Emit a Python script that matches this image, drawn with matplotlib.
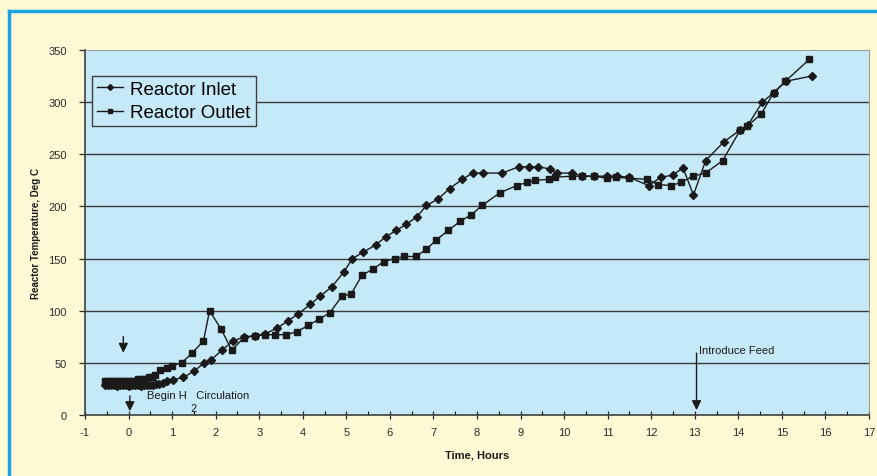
import matplotlib
matplotlib.use("Agg")
import matplotlib.pyplot as plt
from matplotlib.lines import Line2D
from matplotlib.ticker import MultipleLocator

plt.rcParams['font.family'] = ['Liberation Sans', 'DejaVu Sans']
plt.rcParams['axes.unicode_minus'] = False

# Reactor Inlet (diamonds)
inlet_t = [-0.55, -0.48, -0.41, -0.34, -0.27, -0.20, -0.13, -0.06, 0.01, 0.08,
           0.15, 0.22, 0.29, 0.36, 0.43, 0.50, 0.57, 0.64, 0.71, 0.78,
           0.88, 1.03, 1.26, 1.50, 1.74, 1.90, 2.14, 2.40, 2.66, 2.90,
           3.14, 3.40, 3.65, 3.90, 4.17, 4.40, 4.67, 4.94, 5.14, 5.38,
           5.67, 5.91, 6.15, 6.38, 6.62, 6.84, 7.10, 7.37, 7.66, 7.90,
           8.14, 8.58, 8.96, 9.19, 9.40, 9.67, 9.84, 10.19, 10.42, 10.69,
           10.98, 11.22, 11.49, 11.94, 12.22, 12.49, 12.73, 12.97, 13.25, 13.67,
           14.03, 14.22, 14.55, 14.81, 15.09, 15.68]
inlet_v = [29, 29, 29, 29, 28, 29, 29, 29, 28, 29,
           29, 29, 28, 29, 29, 29, 29, 30, 30, 31,
           33, 34, 36, 42, 50, 53, 62, 71, 75, 76,
           78, 83, 90, 97, 106, 114, 123, 137, 150, 156,
           163, 171, 177, 183, 190, 201, 207, 217, 226, 232,
           232, 232, 238, 238, 238, 236, 232, 232, 229, 229,
           229, 229, 228, 220, 228, 230, 237, 211, 244, 262,
           273, 278, 300, 309, 320, 325]

# Reactor Outlet (squares)
outlet_t = [-0.55, -0.48, -0.41, -0.34, -0.27, -0.20, -0.13, -0.06, 0.01, 0.08,
            0.15, 0.22, 0.30, 0.38, 0.46, 0.54, 0.61, 0.72, 0.88, 0.99,
            1.22, 1.45, 1.72, 1.86, 2.13, 2.37, 2.64, 2.91, 3.14, 3.37,
            3.62, 3.87, 4.13, 4.38, 4.62, 4.90, 5.11, 5.36, 5.61, 5.86,
            6.11, 6.33, 6.60, 6.84, 7.07, 7.34, 7.62, 7.87, 8.12, 8.52,
            8.91, 9.15, 9.34, 9.65, 9.80, 10.17, 10.42, 10.68, 10.98, 11.20,
            11.49, 11.91, 12.16, 12.45, 12.69, 12.95, 13.25, 13.64, 14.04, 14.21,
            14.53, 14.81, 15.08, 15.63]
outlet_v = [33, 33, 33, 33, 33, 33, 33, 33, 33, 33,
            33, 35, 35, 35, 36, 36, 38, 43, 45, 47,
            50, 59, 71, 100, 82, 62, 74, 76, 77, 77,
            77, 80, 86, 92, 98, 114, 116, 134, 140, 147,
            150, 152, 152, 159, 168, 177, 186, 192, 201, 213,
            220, 223, 225, 226, 228, 229, 229, 229, 227, 228,
            227, 226, 221, 220, 223, 229, 232, 244, 273, 277,
            289, 309, 320, 341]

x_ticks = list(range(-1, 18))
y_ticks = [0, 50, 100, 150, 200, 250, 300, 350]

cream = '#FFF9D6'
skyblue = '#C6E9F8'
border = '#1AA3E0'
dark = '#2a2a2a'

fig = plt.figure(figsize=(8.78, 4.77), dpi=100, facecolor=cream)
ax = fig.add_axes([85 / 878, 1 - 416 / 477, (869 - 85) / 878, (416 - 51) / 477])
ax.set_facecolor(skyblue)

# blue frame lines on left and top of figure
fig.add_artist(Line2D([9.5 / 878, 9.5 / 878], [0, 1 - 12 / 477], transform=fig.transFigure,
                      color=border, lw=2.5))
fig.add_artist(Line2D([8.5 / 878, 1], [1 - 12 / 477, 1 - 12 / 477], transform=fig.transFigure,
                      color=border, lw=2.5))

for y in y_ticks[1:-1]:
    ax.axhline(y, color='#3a3a3a', lw=1.0, zorder=1)

ax.plot(inlet_t, inlet_v, color='#1a1a1a', lw=1.0, marker='D', ms=4.2,
        mfc='#1a1a1a', mec='#1a1a1a', label='Reactor Inlet', zorder=3)
ax.plot(outlet_t, outlet_v, color='#1a1a1a', lw=1.0, marker='s', ms=4.5,
        mfc='#1a1a1a', mec='#1a1a1a', label='Reactor Outlet', zorder=3)

ax.set_xlim(-1, 17)
ax.set_ylim(0, 350)
ax.set_xticks(x_ticks)
ax.set_yticks(y_ticks)
ax.xaxis.set_minor_locator(MultipleLocator(0.5))
ax.tick_params(axis='both', labelsize=8, colors=dark)
ax.tick_params(axis='x', which='major', direction='inout', length=6, width=0.9, pad=6)
ax.tick_params(axis='x', which='minor', direction='in', length=3, width=0.8)
ax.tick_params(axis='y', which='major', direction='out', length=4, width=0.9, pad=9)

for side in ['left', 'bottom']:
    ax.spines[side].set_color('#404040')
    ax.spines[side].set_linewidth(1.2)
for side in ['top', 'right']:
    ax.spines[side].set_color('#8a8a8a')
    ax.spines[side].set_linewidth(0.6)

ax.set_xlabel('Time, Hours', fontsize=8, fontweight='bold', labelpad=9, color='#1a1a1a')
ax.set_ylabel('Reactor Temperature, Deg C', fontsize=7, fontweight='bold', labelpad=5,
              color='#1a1a1a')

# annotations
ax.annotate('', xy=(-0.12, 57), xytext=(-0.12, 78),
            arrowprops=dict(arrowstyle='-|>', color='#1a1a1a', lw=1.0, mutation_scale=14))
ax.annotate('', xy=(0.03, 1), xytext=(0.03, 21),
            arrowprops=dict(arrowstyle='-|>', color='#1a1a1a', lw=1.0, mutation_scale=14))
ax.text(0.42, 19.5, 'Begin H   Circulation', fontsize=8, color='#1a1a1a', va='center')
ax.text(1.42, 6.5, '2', fontsize=8, color='#1a1a1a', va='center')
ax.annotate('', xy=(13.04, 2), xytext=(13.04, 62),
            arrowprops=dict(arrowstyle='-|>', color='#1a1a1a', lw=1.0, mutation_scale=14))
ax.text(13.1, 62.5, 'Introduce Feed', fontsize=8, color='#1a1a1a', va='center')

leg = ax.legend(loc='upper left', bbox_to_anchor=(0.009, 0.929), fontsize=13.5,
                frameon=True, fancybox=False, facecolor=skyblue, edgecolor='#404040',
                handlelength=1.4, handletextpad=0.4, borderpad=0.25, labelspacing=0.35,
                borderaxespad=0, markerscale=0.7)
leg.get_frame().set_linewidth(1.0)
leg.get_frame().set_alpha(1)

fig.savefig('out.png', dpi=100, facecolor=cream)
